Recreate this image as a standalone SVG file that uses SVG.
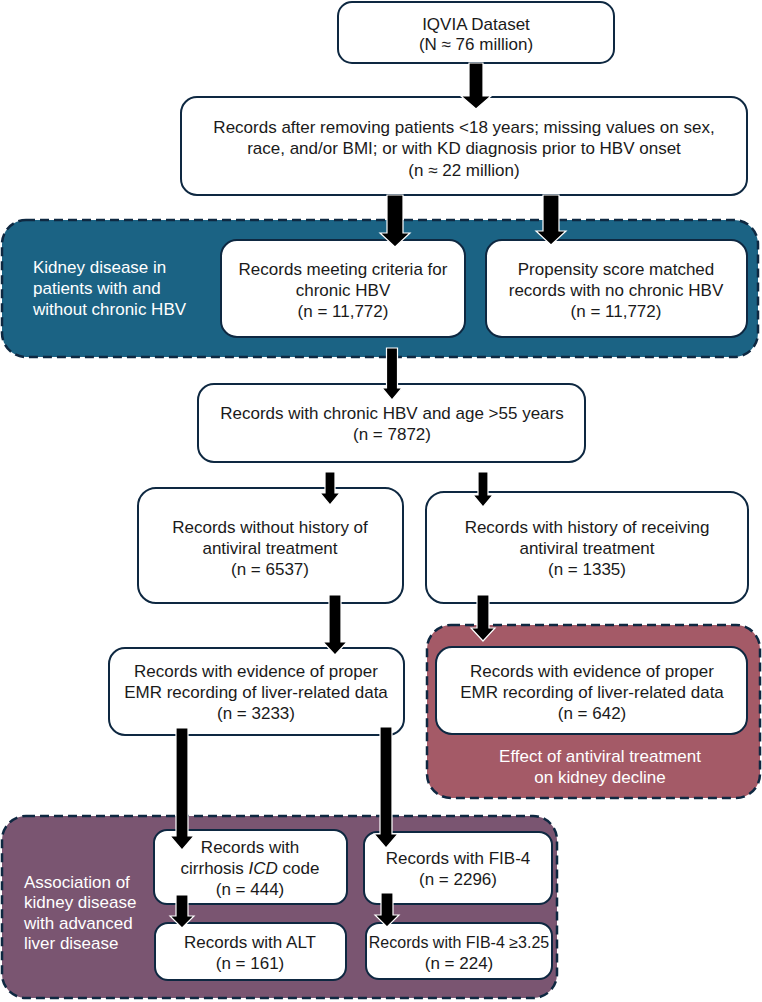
<svg xmlns="http://www.w3.org/2000/svg" width="762" height="1002" viewBox="0 0 762 1002">
<style>
.bg{fill:#ffffff}
.box{fill:#ffffff;stroke:#0e2841;stroke-width:2}
.panel{stroke:#0e2841;stroke-width:2.5;stroke-dasharray:9 5}
.t{font-family:"Liberation Sans",Arial,sans-serif;font-size:17px;fill:#1a1a1a;text-anchor:middle}
.lbl{font-family:"Liberation Sans",Arial,sans-serif;font-size:17px;fill:#ffffff}
.arr{fill:#000000;stroke:#ffffff;stroke-width:1.2}
</style>
<rect class="bg" x="0" y="0" width="762" height="1002"/>

<g id="panel-kidney">
<rect class="panel" x="2" y="220" width="756" height="137" rx="24" fill="#1b6384"/>
<text class="lbl" x="33" y="273">Kidney disease in</text>
<text class="lbl" x="33" y="294">patients with and</text>
<text class="lbl" x="33" y="315">without chronic HBV</text>
</g>
<g id="panel-antiviral">
<rect class="panel" x="427" y="625" width="333" height="173" rx="24" fill="#a45a67"/>
<text class="lbl" x="600" y="762" text-anchor="middle">Effect of antiviral treatment</text>
<text class="lbl" x="600" y="783" text-anchor="middle">on kidney decline</text>
</g>
<g id="panel-liver">
<rect class="panel" x="2" y="816" width="555" height="182" rx="24" fill="#7a5571"/>
<text class="lbl" x="24" y="888">Association of</text>
<text class="lbl" x="24" y="908">kidney disease</text>
<text class="lbl" x="24" y="929">with advanced</text>
<text class="lbl" x="24" y="949">liver disease</text>
</g>

<g id="n-iqvia">
<rect class="box" x="338" y="2" width="276" height="61" rx="14"/>
<text class="t" x="476" y="30">IQVIA Dataset</text>
<text class="t" x="476" y="50">(N ≈ 76 million)</text>
</g>
<g id="n-records">
<rect class="box" x="181" y="97" width="566" height="98" rx="16"/>
<text class="t" x="464" y="133">Records after removing patients &lt;18 years; missing values on sex,</text>
<text class="t" x="464" y="154">race, and/or BMI; or with KD diagnosis prior to HBV onset</text>
<text class="t" x="464" y="176">(n ≈ 22 million)</text>
</g>
<g id="n-chronic">
<rect class="box" x="221" y="240" width="244" height="97" rx="16"/>
<text class="t" x="343" y="275">Records meeting criteria for</text>
<text class="t" x="343" y="296">chronic HBV</text>
<text class="t" x="343" y="317">(n = 11,772)</text>
</g>
<g id="n-matched">
<rect class="box" x="486" y="240" width="261" height="97" rx="16"/>
<text class="t" x="616" y="275">Propensity score matched</text>
<text class="t" x="616" y="296">records with no chronic HBV</text>
<text class="t" x="616" y="317">(n = 11,772)</text>
</g>
<g id="n-age">
<rect class="box" x="198" y="384" width="387" height="78" rx="16"/>
<text class="t" x="392" y="419">Records with chronic HBV and age &gt;55 years</text>
<text class="t" x="392" y="440">(n = 7872)</text>
</g>
<g id="n-noantiviral">
<rect class="box" x="138" y="488" width="265" height="115" rx="18"/>
<text class="t" x="270" y="533">Records without history of</text>
<text class="t" x="270" y="554">antiviral treatment</text>
<text class="t" x="270" y="575">(n = 6537)</text>
</g>
<g id="n-antiviral">
<rect class="box" x="426" y="492" width="322" height="111" rx="18"/>
<text class="t" x="587" y="533">Records with history of receiving</text>
<text class="t" x="587" y="554">antiviral treatment</text>
<text class="t" x="587" y="575">(n = 1335)</text>
</g>
<g id="n-emr-left">
<rect class="box" x="109" y="648" width="295" height="87" rx="16"/>
<text class="t" x="256" y="677">Records with evidence of proper</text>
<text class="t" x="256" y="698">EMR recording of liver-related data</text>
<text class="t" x="256" y="719">(n = 3233)</text>
</g>
<g id="n-emr-right">
<rect class="box" x="436" y="647" width="311" height="87" rx="16"/>
<text class="t" x="592" y="677">Records with evidence of proper</text>
<text class="t" x="592" y="698">EMR recording of liver-related data</text>
<text class="t" x="592" y="719">(n = 642)</text>
</g>
<g id="n-cirrhosis">
<rect class="box" x="154" y="830" width="193" height="74" rx="13"/>
<text class="t" x="250" y="853">Records with</text>
<text class="t" x="250" y="874">cirrhosis <tspan font-style="italic">ICD</tspan> code</text>
<text class="t" x="250" y="895">(n = 444)</text>
</g>
<g id="n-alt">
<rect class="box" x="155" y="923" width="191" height="57" rx="13"/>
<text class="t" x="250" y="948">Records with ALT</text>
<text class="t" x="250" y="969">(n = 161)</text>
</g>
<g id="n-fib4">
<rect class="box" x="364" y="832" width="188" height="72" rx="13"/>
<text class="t" x="458" y="864">Records with FIB-4</text>
<text class="t" x="458" y="885">(n = 2296)</text>
</g>
<g id="n-fib4high">
<rect class="box" x="366" y="923" width="186" height="56" rx="13"/>
<text class="t" x="459" y="948" style="font-size:16px">Records with FIB-4 ≥3.25</text>
<text class="t" x="459" y="969">(n = 224)</text>
</g>

<g id="connectors">
<path class="arr" d="M469,63 H483 V96 H491 L476,109 L461,96 H469 Z"/>
<path class="arr" d="M387,195 H403 V233 H410 L395,247 L380,233 H387 Z"/>
<path class="arr" d="M543,195 H559 V231 H566 L551,245 L536,231 H543 Z"/>
<path class="arr" d="M386.5,348 H397.5 V388 H402 L392,400 L382,388 H386.5 Z"/>
<path class="arr" d="M325,472 H335 V493 H340 L330,505 L320,493 H325 Z"/>
<path class="arr" d="M478,472 H488 V495 H493 L483,507 L473,495 H478 Z"/>
<path class="arr" d="M329,595 H341 V642 H347 L335,655 L323,642 H329 Z"/>
<path class="arr" d="M477,595 H489 V628 H495 L483,641 L471,628 H477 Z"/>
<path class="arr" d="M176,728 H188 V836 H194 L182,850 L170,836 H176 Z"/>
<path class="arr" d="M380,727 H392 V834 H398 L386,848 L374,834 H380 Z"/>
<path class="arr" d="M176,895 H188 V916 H194 L182,928 L170,916 H176 Z"/>
<path class="arr" d="M381,893 H393 V915 H399 L387,927 L375,915 H381 Z"/>
</g>
</svg>
